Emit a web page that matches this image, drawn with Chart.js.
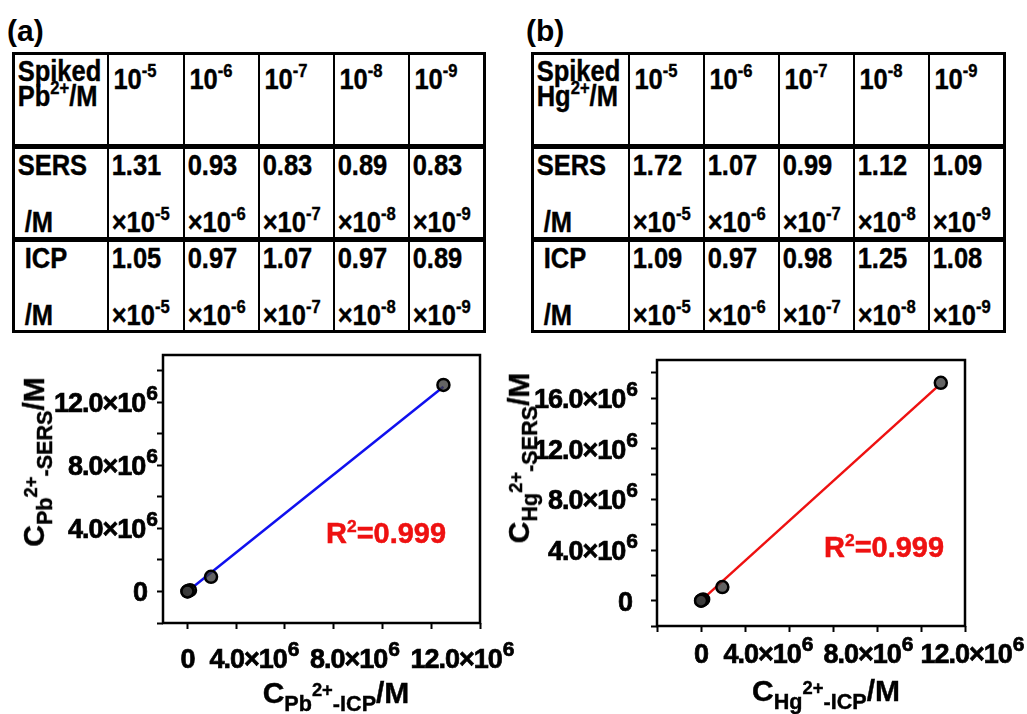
<!DOCTYPE html>
<html>
<head>
<meta charset="utf-8">
<script src="https://cdn.jsdelivr.net/npm/chart.js@4.4.0/dist/chart.umd.min.js"></script>
<style>
  body { margin: 0; width: 1027px; height: 714px; overflow: hidden; position: relative; background: #fff;
         font-family: "Liberation Sans", Arial, sans-serif; font-weight: bold; color: #000; }
  .tag { position: absolute; font-size: 30px; line-height: 30px; }
  table { position: absolute; border-collapse: collapse; table-layout: fixed; border: 3px solid #000; }
  td { border-left: 2px solid #000; border-right: 2px solid #000; vertical-align: top; padding: 0; overflow: hidden; white-space: nowrap; }
  tr.data td { border-top: 5px solid #000; }
  .cell { position: relative; }
  .cell.h { height: 89px; }
  .cell.d { height: 88px; }
  .in { transform: scaleX(0.88); transform-origin: left top; font-size: 29px; padding-left: 3px; -webkit-text-stroke: 0.4px #000; }
  .in sup { font-size: 0.65em; vertical-align: baseline; position: relative; top: -0.62em; }
  .ln { line-height: 25px; }
  .first { padding-top: 4px; }
  .num { padding-top: 12px; line-height: 25px; padding-left: 5px; }
  .l1 { line-height: 30px; padding-top: 1px; }
  .l2 { line-height: 30px; margin-top: 27px; }
  .indent { padding-left: 8px; }
  canvas { position: absolute; top: 340px; }
  .ttl { position: absolute; font-size: 30px; line-height: 30px; white-space: nowrap; z-index: 2; -webkit-text-stroke: 0.4px #000; }
  .ttl sub { font-size: 0.72em; vertical-align: baseline; position: relative; top: 0.38em; }
  .ttl sub sup { font-size: 0.85em; vertical-align: baseline; position: relative; top: -0.85em; }
  .rot { transform: translate(-50%, -50%) rotate(-90deg); }
  .hor { transform: translateX(-50%); }
  .r2 { position: absolute; color: #ee1111; font-size: 29px; line-height: 28px; z-index: 2; -webkit-text-stroke: 0.5px #ee1111; }
  .r2 sup { font-size: 0.6em; vertical-align: baseline; position: relative; top: -0.65em; }
</style>
</head>
<body>
<div class="tag" style="left:7px;top:16px">(a)</div>
<div class="tag" style="left:526px;top:16px">(b)</div>
<table id="tabPb" style="left:12px;top:52px;width:471px"></table>
<table id="tabHg" style="left:531px;top:52px;width:472px"></table>

<canvas id="chartPb" width="527" height="374" style="left:0"></canvas>
<canvas id="chartHg" width="527" height="374" style="left:500px"></canvas>

<div class="ttl rot" style="left:36px;top:462px">C<sub>Pb<sup>2+</sup>-SERS</sub>/M</div>
<div class="ttl hor" style="left:336px;top:678px">C<sub>Pb<sup>2+</sup>-ICP</sub>/M</div>
<div class="ttl rot" style="left:521px;top:458px">C<sub>Hg<sup>2+</sup>-SERS</sub>/M</div>
<div class="ttl hor" style="left:826px;top:676px">C<sub>Hg<sup>2+</sup>-ICP</sub>/M</div>
<div class="r2" style="left:326px;top:519px">R<sup>2</sup>=0.999</div>
<div class="r2" style="left:824px;top:533px">R<sup>2</sup>=0.999</div>

<script>
// spiked concentrations (exponents) and measured values from the tables
const powers = [-5, -6, -7, -8, -9];
const sersPb = [1.31, 0.93, 0.83, 0.89, 0.83];
const icpPb = [1.05, 0.97, 1.07, 0.97, 0.89];
const sersHg = [1.72, 1.07, 0.99, 1.12, 1.09];
const icpHg = [1.09, 0.97, 0.98, 1.25, 1.08];

// plotted points (axis unit x10^6)
const icpPbPlot = [10.5e6, 0.97e6, 0.107e6, 0.0097e6, 0.00089e6];
const sersPbPlot = [13.1e6, 0.93e6, 0.083e6, 0.0089e6, 0.00083e6];
const icpHgPlot = [10.9e6, 0.97e6, 0.098e6, 0.0125e6, 0.00108e6];
const sersHgPlot = [17.2e6, 1.07e6, 0.099e6, 0.0112e6, 0.00109e6];

// fitted lines, end points
const fitPbX = [0, 10.5e6];
const fitPbY = [0, 12.98e6];
const fitHgX = [0, 10.75e6];
const fitHgY = [0, 16.9e6];

// ticks (all marks) and labelled ticks
const xTicksPb = [0, 2e6, 4e6, 6e6, 8e6, 10e6, 12e6];
const yTicksPb = [-2e6, 0, 2e6, 4e6, 6e6, 8e6, 10e6, 12e6, 14e6];
const xTicksHg = [-2e6, 0, 2e6, 4e6, 6e6, 8e6, 10e6, 12e6];
const yTicksHg = [-2e6, 0, 2e6, 4e6, 6e6, 8e6, 10e6, 12e6, 14e6, 16e6, 18e6];
const xLabelsPb = [0, 4e6, 8e6, 12e6];
const yLabelsPb = [0, 4e6, 8e6, 12e6];
const xLabelsHg = [0, 4e6, 8e6, 12e6];
const yLabelsHg = [0, 4e6, 8e6, 12e6, 16e6];

function buildTable(id, ion, sers, icp, widths) {
  let h = '<colgroup>' + widths.map(w => `<col style="width:${w}px">`).join('') + '</colgroup>';
  h += `<tr><td><div class="cell h"><div class="in first"><div class="ln">Spiked</div><div class="ln">${ion}<sup>2+</sup>/M</div></div></div></td>`;
  powers.forEach(p => { h += `<td><div class="cell h"><div class="in num">10<sup>${p}</sup></div></div></td>`; });
  h += '</tr>';
  [['SERS', sers], ['ICP', icp]].forEach(([name, vals]) => {
    h += `<tr class="data"><td><div class="cell d"><div class="in"><div class="l1${name === 'ICP' ? ' indent' : ''}">${name}</div><div class="l2 indent">/M</div></div></div></td>`;
    vals.forEach((v, i) => {
      h += `<td><div class="cell d"><div class="in"><div class="l1">${v.toFixed(2)}</div><div class="l2">×10<sup>${powers[i]}</sup></div></div></div></td>`;
    });
    h += '</tr>';
  });
  document.getElementById(id).innerHTML = h;
}
buildTable('tabPb', 'Pb', sersPb, icpPb, [94, 76, 75, 75, 75, 76]);
buildTable('tabHg', 'Hg', sersHg, icpHg, [96, 75, 75, 75, 75, 76]);

const MAIN_FONT = 'bold 27px "Liberation Sans", Arial, sans-serif';
const SUP_FONT = 'bold 21px "Liberation Sans", Arial, sans-serif';

function drawSci(ctx, v, x, base, align) {
  const main = v === 0 ? '0' : (v / 1e6).toFixed(1) + '×10';
  const sup = v === 0 ? '' : '6';
  ctx.letterSpacing = '-1px';
  ctx.font = MAIN_FONT;
  const wm = ctx.measureText(main).width;
  ctx.font = SUP_FONT;
  const ws = sup ? ctx.measureText(sup).width + 1 : 0;
  const total = wm + ws;
  const x0 = align === 'center' ? x - total / 2 : x - total;
  ctx.textAlign = 'left';
  ctx.textBaseline = 'alphabetic';
  ctx.lineWidth = 0.7;
  ctx.strokeStyle = '#000';
  ctx.font = MAIN_FONT;
  ctx.fillText(main, x0, base);
  ctx.strokeText(main, x0, base);
  if (sup) {
    ctx.font = SUP_FONT;
    ctx.fillText(sup, x0 + wm + 1, base - 12);
    ctx.strokeText(sup, x0 + wm + 1, base - 12);
  }
}

const frame = {
  id: 'frame',
  afterDraw(chart, args, o) {
    const { ctx, chartArea: a, scales } = chart;
    ctx.save();
    ctx.strokeStyle = '#000';
    ctx.lineWidth = 2.5;
    ctx.strokeRect(a.left, a.top, a.right - a.left, a.bottom - a.top);
    ctx.fillStyle = '#000';
    o.xLabels.forEach((v, i) => drawSci(ctx, v, scales.x.getPixelForValue(v) + o.xNudge[i], a.bottom + o.xBase, 'center'));
    o.yLabels.forEach(v => drawSci(ctx, v, a.left - (v ? o.yGap : o.yZeroGap), scales.y.getPixelForValue(v) + 10, 'right'));
    ctx.restore();
  }
};

function makeChart(id, xs, ys, fx, fy, lineColor, c) {
  const axis = (min, max, ticks, fit) => ({
    type: 'linear', min: min, max: max,
    afterBuildTicks: s => { s.ticks = ticks.map(v => ({ value: v })); },
    afterFit: fit,
    ticks: { display: false },
    grid: { drawOnChartArea: false, drawTicks: true, tickLength: 6, tickWidth: 2, tickColor: '#000' },
    border: { display: false }
  });
  return new Chart(document.getElementById(id), {
    type: 'scatter',
    data: {
      datasets: [
        {
          data: xs.map((x, i) => ({ x: x, y: ys[i] })),
          pointRadius: 6, pointBackgroundColor: 'rgba(60,60,60,0.8)',
          pointBorderColor: '#000', pointBorderWidth: 2.5
        },
        {
          data: fx.map((x, i) => ({ x: x, y: fy[i] })),
          showLine: true, pointRadius: 0, borderColor: lineColor, borderWidth: 2.5
        }
      ]
    },
    options: {
      responsive: false,
      animation: false,
      layout: { padding: { top: c.top, right: c.right, left: 0, bottom: 0 }, autoPadding: false },
      plugins: { legend: { display: false }, tooltip: { enabled: false },
                 frame: { xLabels: c.xLabels, yLabels: c.yLabels, xNudge: c.xNudge, xBase: c.xBase,
                          yGap: c.yGap, yZeroGap: c.yZeroGap } },
      scales: {
        x: axis(c.xMin, c.xMax, c.xTicks, s => { s.height = c.xh; }),
        y: axis(c.yMin, c.yMax, c.yTicks, s => { s.width = c.yw; })
      }
    },
    plugins: [frame]
  });
}

makeChart('chartPb', icpPbPlot, sersPbPlot, fitPbX, fitPbY, '#1010ee', {
  top: 15, right: 47, xh: 91, yw: 163,
  xMin: -1e6, xMax: 12e6, yMin: -2e6, yMax: 15e6,
  xTicks: xTicksPb, yTicks: yTicksPb, xLabels: xLabelsPb, yLabels: yLabelsPb,
  xNudge: [0, -31, -28, -18], xBase: 45, yGap: 6, yZeroGap: 16
});
makeChart('chartHg', icpHgPlot, sersHgPlot, fitHgX, fitHgY, '#ee1111', {
  top: 20, right: 62, xh: 88, yw: 157,
  xMin: -2e6, xMax: 12e6, yMin: -2e6, yMax: 19e6,
  xTicks: xTicksHg, yTicks: yTicksHg, xLabels: xLabelsHg, yLabels: yLabelsHg,
  xNudge: [0, -21, -9, 7], xBase: 37, yGap: 20, yZeroGap: 25
});
</script>
</body>
</html>
